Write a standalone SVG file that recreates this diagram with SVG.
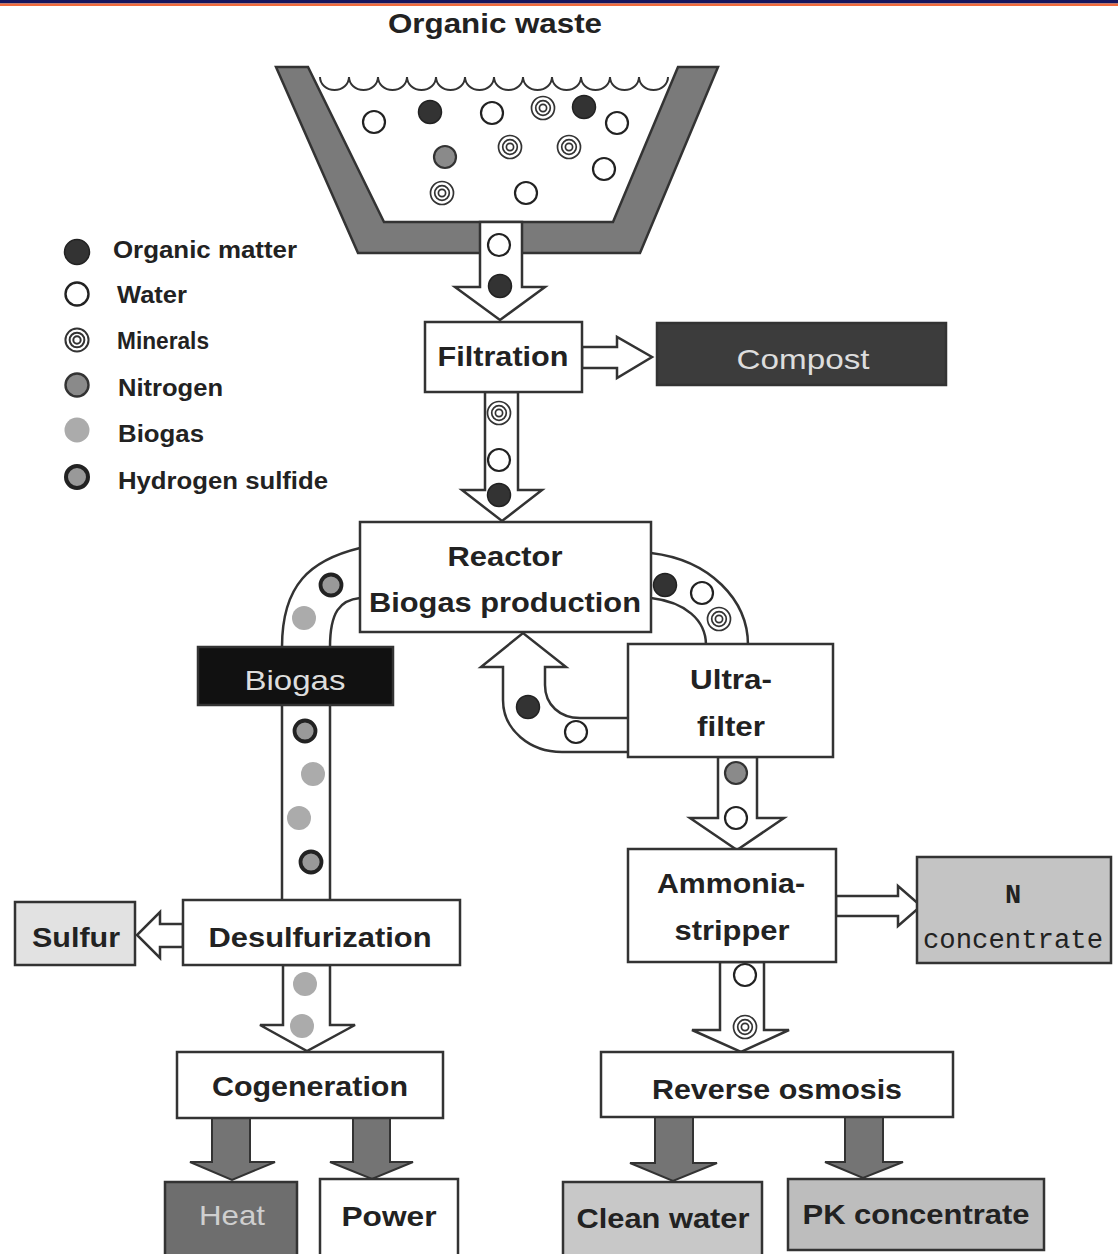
<svg xmlns="http://www.w3.org/2000/svg" xmlns:xlink="http://www.w3.org/1999/xlink" width="1118" height="1254" viewBox="0 0 1118 1254">
<style>
.t{font-family:"Liberation Sans",Arial,sans-serif;font-weight:bold;font-size:28.5px;fill:#222;text-anchor:middle}
.lg{font-family:"Liberation Sans",Arial,sans-serif;font-weight:bold;font-size:23px;fill:#222}
.lt{fill:#ddd;font-weight:normal}
.mono{font-family:"Liberation Mono","Courier New",monospace;font-size:27px;fill:#222;text-anchor:middle}
.box{stroke:#333;stroke-width:2.5}
.wa{fill:#fff;stroke:#333;stroke-width:2.5;stroke-linejoin:miter}
.ga{fill:#747474;stroke:#333;stroke-width:2}
.pipe{fill:none;stroke:#333;stroke-width:2.5}
</style>
<defs>
<g id="org"><circle r="11.5" fill="#333" stroke="#222" stroke-width="1.5"/></g>
<g id="wat"><circle r="11" fill="#fff" stroke="#222" stroke-width="2.2"/></g>
<g id="min"><circle r="11.5" fill="#fff" stroke="#333" stroke-width="1.7"/><circle r="7.3" fill="none" stroke="#333" stroke-width="1.7"/><circle r="3.6" fill="none" stroke="#333" stroke-width="1.7"/></g>
<g id="nit"><circle r="11" fill="#8a8a8a" stroke="#333" stroke-width="2.2"/></g>
<g id="bio"><circle r="12" fill="#ababab"/></g>
<g id="h2s"><circle r="10.5" fill="#999" stroke="#222" stroke-width="3.8"/></g>
</defs>
<rect width="1118" height="1254" fill="#fff"/>
<rect x="0" y="0" width="1118" height="3.5" fill="#15155e"/>
<rect x="0" y="3.5" width="1118" height="2.5" fill="#f06a3c"/>

<g id="title"><text class="t" x="495" y="33" textLength="214" lengthAdjust="spacingAndGlyphs">Organic waste</text></g>

<g id="trough">
<polygon points="276,67 308,67 384,222 613,222 678,67 718,67 640,253 358,253" fill="#7a7a7a" stroke="#333" stroke-width="2.5" stroke-linejoin="miter"/>
<path d="M320,77 a14.5,13 0 0 0 29,0 a14.5,13 0 0 0 29,0 a14.5,13 0 0 0 29,0 a14.5,13 0 0 0 29,0 a14.5,13 0 0 0 29,0 a14.5,13 0 0 0 29,0 a14.5,13 0 0 0 29,0 a14.5,13 0 0 0 29,0 a14.5,13 0 0 0 29,0 a14.5,13 0 0 0 29,0 a14.5,13 0 0 0 29,0 a14.5,13 0 0 0 29,0" fill="none" stroke="#333" stroke-width="2"/>
<use href="#wat" x="374" y="122"/>
<use href="#org" x="430" y="112"/>
<use href="#wat" x="492" y="113"/>
<use href="#min" x="543" y="108"/>
<use href="#org" x="584" y="107"/>
<use href="#wat" x="617" y="123"/>
<use href="#nit" x="445" y="157"/>
<use href="#min" x="510" y="147"/>
<use href="#min" x="569" y="147"/>
<use href="#wat" x="604" y="169"/>
<use href="#min" x="442" y="193"/>
<use href="#wat" x="526" y="193"/>
</g>

<g id="legend">
<circle cx="77" cy="252" r="12.5" fill="#333" stroke="#222" stroke-width="1.5"/>
<circle cx="77" cy="294" r="11.5" fill="#fff" stroke="#222" stroke-width="2.4"/>
<g transform="translate(77,340) scale(1.05)"><circle r="11" fill="#fff" stroke="#333" stroke-width="1.9"/><circle r="7" fill="none" stroke="#333" stroke-width="1.9"/><circle r="3.5" fill="none" stroke="#333" stroke-width="1.9"/></g>
<circle cx="77" cy="385" r="11.5" fill="#8a8a8a" stroke="#333" stroke-width="2.4"/>
<circle cx="77" cy="430" r="12.5" fill="#ababab"/>
<circle cx="77" cy="477" r="11" fill="#999" stroke="#222" stroke-width="4"/>
<text class="lg" x="113" y="258" textLength="184" lengthAdjust="spacingAndGlyphs">Organic matter</text>
<text class="lg" x="117" y="303" textLength="70" lengthAdjust="spacingAndGlyphs">Water</text>
<text class="lg" x="117" y="349" font-size="20.5" textLength="92" lengthAdjust="spacingAndGlyphs">Minerals</text>
<text class="lg" x="118" y="396" textLength="105" lengthAdjust="spacingAndGlyphs">Nitrogen</text>
<text class="lg" x="118" y="442" textLength="86" lengthAdjust="spacingAndGlyphs">Biogas</text>
<text class="lg" x="118" y="489" textLength="210" lengthAdjust="spacingAndGlyphs">Hydrogen sulfide</text>
</g>

<g id="connectors">
<polygon class="wa" points="480,222 480,287 455,287 500,320 545,287 522,287 522,222"/>
<polygon class="wa" points="485,392 485,490 462,490 502,521 542,490 518,490 518,392"/>
<polygon class="wa" points="582,347 617,347 617,337 652,357 617,378 617,368 582,368"/>
<path class="pipe" d="M360,548 C310,560 282,585 282,647 L282,900"/>
<path class="pipe" d="M360,598 C340,600 330,612 330,647 L330,900"/>
<path class="pipe" d="M651,553 C710,560 748,600 748,645"/>
<path class="pipe" d="M651,598 C685,602 706,620 706,645"/>
<path class="wa" d="M628,718 L580,718 C560,718 545,705 545,685 L545,667 L566,667 L523,633 L481,667 L503,667 L503,700 C503,730 530,752 562,752 L628,752"/>
<polygon class="wa" points="718,757 718,818 690,818 737,850 784,818 757,818 757,757"/>
<polygon class="wa" points="836,896 898,896 898,886 921,906 898,926 898,916 836,916"/>
<polygon class="wa" points="720,962 720,1030 692,1030 741,1052 789,1030 764,1030 764,962"/>
<polygon class="wa" points="183,924 160,924 160,912 137,935 160,958 160,947 183,947"/>
<polygon class="wa" points="283,965 283,1025 260,1025 307,1051 355,1025 330,1025 330,965"/>
<polygon class="ga" points="212,1118 212,1162 190,1162 232,1180 275,1162 250,1162 250,1118"/>
<polygon class="ga" points="353,1118 353,1162 330,1162 372,1179 413,1162 390,1162 390,1118"/>
<polygon class="ga" points="655,1117 655,1163 630,1163 673,1181 717,1163 693,1163 693,1117"/>
<polygon class="ga" points="845,1117 845,1162 825,1162 863,1178 903,1162 883,1162 883,1117"/>
</g>

<g id="particles">
<use href="#wat" x="499" y="245"/>
<use href="#org" x="500" y="286"/>
<use href="#min" x="499" y="413"/>
<use href="#wat" x="499" y="460"/>
<use href="#org" x="499" y="495"/>
<use href="#h2s" x="331" y="585"/>
<use href="#bio" x="304" y="618"/>
<use href="#h2s" x="305" y="731"/>
<use href="#bio" x="313" y="774"/>
<use href="#bio" x="299" y="818"/>
<use href="#h2s" x="311" y="862"/>
<use href="#bio" x="305" y="984"/>
<use href="#bio" x="302" y="1026"/>
<use href="#org" x="665" y="585"/>
<use href="#wat" x="702" y="593"/>
<use href="#min" x="719" y="619"/>
<use href="#org" x="528" y="707"/>
<use href="#wat" x="576" y="732"/>
<use href="#nit" x="736" y="773"/>
<use href="#wat" x="736" y="818"/>
<use href="#wat" x="745" y="975"/>
<use href="#min" x="745" y="1027"/>
</g>

<g id="filtration"><rect class="box" x="425" y="322" width="157" height="70" fill="#fff"/><text class="t" x="503" y="366" textLength="131" lengthAdjust="spacingAndGlyphs">Filtration</text></g>
<g id="compost"><rect class="box" x="657" y="323" width="289" height="62" fill="#3c3c3c"/><text class="t lt" x="803" y="369" textLength="133" lengthAdjust="spacingAndGlyphs">Compost</text></g>
<g id="reactor"><rect class="box" x="360" y="522" width="291" height="110" fill="#fff"/><text class="t" x="505" y="566" textLength="115" lengthAdjust="spacingAndGlyphs">Reactor</text><text class="t" x="505" y="612" textLength="272" lengthAdjust="spacingAndGlyphs">Biogas production</text></g>
<g id="biogas"><rect class="box" x="198" y="647" width="195" height="58" fill="#111"/><text class="t lt" x="295" y="690" textLength="101" lengthAdjust="spacingAndGlyphs">Biogas</text></g>
<g id="ultrafilter"><rect class="box" x="628" y="644" width="205" height="113" fill="#fff"/><text class="t" x="731" y="689" textLength="82" lengthAdjust="spacingAndGlyphs">Ultra-</text><text class="t" x="731" y="736" textLength="68" lengthAdjust="spacingAndGlyphs">filter</text></g>
<g id="ammonia"><rect class="box" x="628" y="849" width="208" height="113" fill="#fff"/><text class="t" x="731" y="893" textLength="148" lengthAdjust="spacingAndGlyphs">Ammonia-</text><text class="t" x="732" y="940" textLength="115" lengthAdjust="spacingAndGlyphs">stripper</text></g>
<g id="nconc"><rect class="box" x="917" y="857" width="194" height="106" fill="#c4c4c4"/><text class="mono" x="1013" y="903" font-weight="bold">N</text><text class="mono" x="1013" y="948" textLength="180" lengthAdjust="spacingAndGlyphs">concentrate</text></g>
<g id="sulfur"><rect class="box" x="15" y="902" width="120" height="63" fill="#e2e2e2"/><text class="t" x="76" y="947" textLength="88" lengthAdjust="spacingAndGlyphs">Sulfur</text></g>
<g id="desulfurization"><rect class="box" x="183" y="900" width="277" height="65" fill="#fff"/><text class="t" x="320" y="947" textLength="223" lengthAdjust="spacingAndGlyphs">Desulfurization</text></g>
<g id="cogeneration"><rect class="box" x="177" y="1052" width="266" height="66" fill="#fff"/><text class="t" x="310" y="1096" textLength="196" lengthAdjust="spacingAndGlyphs">Cogeneration</text></g>
<g id="reverseosmosis"><rect class="box" x="601" y="1052" width="352" height="65" fill="#fff"/><text class="t" x="777" y="1099" textLength="250" lengthAdjust="spacingAndGlyphs">Reverse osmosis</text></g>
<g id="heat"><rect class="box" x="165" y="1182" width="132" height="74" fill="#6e6e6e"/><text class="t" x="232" y="1225" style="fill:#cfcfcf;font-weight:normal" textLength="66" lengthAdjust="spacingAndGlyphs">Heat</text></g>
<g id="power"><rect class="box" x="320" y="1179" width="138" height="77" fill="#fff"/><text class="t" x="389" y="1226" textLength="95" lengthAdjust="spacingAndGlyphs">Power</text></g>
<g id="cleanwater"><rect class="box" x="563" y="1182" width="199" height="74" fill="#c8c8c8"/><text class="t" x="663" y="1228" textLength="173" lengthAdjust="spacingAndGlyphs">Clean water</text></g>
<g id="pkconc"><rect class="box" x="788" y="1179" width="256" height="71" fill="#bdbdbd"/><text class="t" x="916" y="1224" textLength="227" lengthAdjust="spacingAndGlyphs">PK concentrate</text></g>
</svg>
